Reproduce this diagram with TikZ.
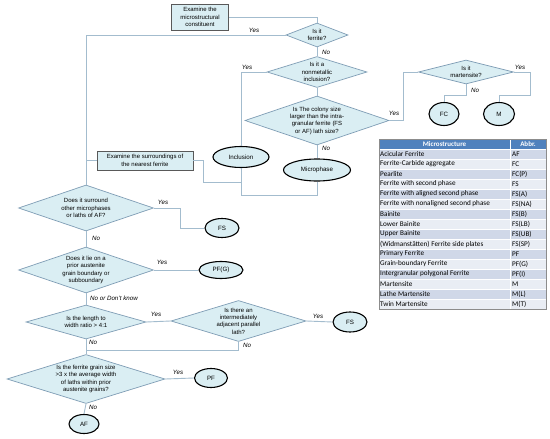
\documentclass[tikz,border=0pt]{standalone}
\usepackage{fontspec}
\setmainfont{Liberation Sans}
\newfontfamily\tabfont{Carlito}
\usetikzlibrary{shapes.geometric,calc}
\definecolor{lnc}{HTML}{A3BCCE}
\definecolor{dfill}{HTML}{DAEEF3}
\definecolor{dborder}{HTML}{7F9DB5}
\definecolor{bborder}{HTML}{595959}
\definecolor{hdr}{HTML}{4F81BD}
\definecolor{rowA}{HTML}{D0D8E8}
\definecolor{rowB}{HTML}{E9EDF4}
\tikzset{
  dia/.style={diamond, draw=dborder, fill=dfill, line width=0.7pt, inner sep=0pt},
  dtext/.style={align=center, inner sep=0pt, font=\fontsize{6}{7.3}\selectfont},
  ell/.style={ellipse, draw=black, fill=dfill, line width=1.1pt, inner sep=0pt, font=\fontsize{6.2}{7}\selectfont},
  bx/.style={rectangle, draw=bborder, fill=dfill, line width=0.8pt, inner sep=0pt, align=center, font=\fontsize{6}{7.3}\selectfont},
  conn/.style={draw=lnc, line width=0.9pt},
  lbl/.style={inner sep=0pt, font=\fontsize{6.2}{7}\selectfont\itshape},
  tabtxt/.style={inner sep=0pt, font=\tabfont\fontsize{7.2}{8}\selectfont},
  tabhd/.style={inner sep=0pt, text=white, font=\tabfont\bfseries\fontsize{7}{8}\selectfont},
}
\begin{document}
\begin{tikzpicture}[x=1pt,y=-1pt]
\useasboundingbox (0,0) rectangle (550,439);
\fill[white] (0,0) rectangle (550,439);

% boxes
\node[bx, minimum width=57, minimum height=26] (b0) at (200,17) {Examine the\\microstructural\\constituent};
\node[bx, minimum width=96, minimum height=19] (b1) at (145,160.5) {Examine  the surroundings of\\the nearest ferrite};

% diamonds
\node[dia, minimum width=62, minimum height=24] (d1) at (317,35) {};
\node[dtext] (t1) at (d1) {Is it\\ferrite?};
\node[dia, minimum width=100, minimum height=31] (d2) at (317,72) {};
\node[dtext] (t2) at (d2) {Is it a\\nonmetallic\\inclusion?};
\node[dia, minimum width=144, minimum height=49] (d3) at (317,120.5) {};
\node[dtext] (t3) at (d3) {Is The colony size\\larger than the intra-\\granular ferrite (FS\\or AF) lath size?};
\node[dia, minimum width=95, minimum height=24] (d4) at (466,72) {};
\node[dtext] (t4) at (d4) {Is it\\martensite?};
\node[dia, minimum width=135, minimum height=46] (d5) at (86,208) {};
\node[dtext] (t5) at (d5) {Does it surround\\other microphases\\or laths of AF?};
\node[dia, minimum width=135, minimum height=46] (d6) at (86,270) {};
\node[dtext] (t6) at (d6) {Does it lie on a\\prior austenite\\grain boundary or\\subboundary};
\node[dia, minimum width=120, minimum height=34] (d7) at (86,322) {};
\node[dtext] (t7) at (d7) {Is the length to\\width ratio > 4:1};
\node[dia, minimum width=135, minimum height=41] (d8) at (238.5,321) {};
\node[dtext] (t8) at (d8) {Is there an\\intermediately\\adjacent parallel\\lath?};
\node[dia, minimum width=158, minimum height=49] (d9) at (86,379) {};
\node[dtext] (t9) at (d9) {Is the ferrite grain size\\>3 x the average width\\of laths within prior\\austenite grains?};

% ellipses
\node[ell, minimum width=30, minimum height=23] (fc) at (444,114) {FC};
\node[ell, minimum width=31, minimum height=23] (m) at (499,114) {M};
\node[ell, minimum width=56, minimum height=21] (incl) at (241,157) {Inclusion};
\node[ell, minimum width=67, minimum height=22] (micro) at (317,170) {Microphase};
\node[ell, minimum width=34, minimum height=19] (fs1) at (222,228) {FS};
\node[ell, minimum width=44, minimum height=17] (pfg) at (221,270) {PF(G)};
\node[ell, minimum width=34, minimum height=20] (fs2) at (350,322) {FS};
\node[ell, minimum width=33, minimum height=19] (pf) at (211,378) {PF};
\node[ell, minimum width=30, minimum height=19] (af) at (84,424) {AF};

% connectors
\draw[conn] (b0.east) -| (d1.north);
\draw[conn] (d1.west) -| (d5.north);
\draw[conn] (b1.west) -- (b1.west -| d5.north);
\draw[conn] (d1.south) -- (d2.north);
\draw[conn] (d2.west) -| (incl.north);
\draw[conn] (d2.south) -- (d3.north);
\draw[conn] (d3.east) -- ++(14,0) |- (d4.west);
\draw[conn] (d4.east) -| (530,95) -| (m.north);
\draw[conn] (d4.south) -- ++(0,11) -| (fc.north);
\draw[conn] (d3.south) -- (micro.north);
\draw[conn] (micro.south) -- ++(0,14) -| (incl.south);
\draw[conn] (b1.east) -- ++(10,0) |- (incl.south |- 0,182);
\draw[conn] (d5.east) -- ++(27,0) |- (fs1.west);
\draw[conn] (d5.south) -- (d6.north);
\draw[conn] (d6.east) -- (pfg.west);
\draw[conn] (d6.south) -- (d7.north);
\draw[conn] (d7.east) -- (d8.west);
\draw[conn] (d8.east) -- (fs2.west);
\draw[conn] (d8.south) |- (d7.south |- 0,350);
\draw[conn] (d7.south) -- (d9.north);
\draw[conn] (d9.east) -- (pf.west);
\draw[conn] (d9.south) -- (af.north);

% labels
\node[lbl] (y1) at (254,30) {Yes};
\node[lbl] (n1) at (326,52) {No};
\node[lbl] (y2) at (247,67) {Yes};
\node[lbl] (y3) at (394,113) {Yes};
\node[lbl] (y4) at (520,67) {Yes};
\node[lbl] (n4) at (475,90) {No};
\node[lbl] (n3) at (326,148) {No};
\node[lbl] (y5) at (163,202) {Yes};
\node[lbl] (n5) at (96,238) {No};
\node[lbl] (y6) at (162,262) {Yes};
\node[lbl, anchor=west] (n6) at (90,298) {No or Don't know};
\node[lbl] (y7) at (156,314) {Yes};
\node[lbl] (y8) at (318,316) {Yes};
\node[lbl] (n8) at (247,345) {No};
\node[lbl] (n7) at (93,342) {No};
\node[lbl] (y9) at (178,372) {Yes};
\node[lbl] (n9) at (93,407) {No};

% table
\fill[hdr] (379,139) rectangle (546,149);
\node[tabhd] (th1) at (444.5,144) {Microstructure};
\node[tabhd] (th2) at (528,144) {Abbr.};
\foreach \nm/\ab [count=\i] in {Acicular Ferrite/AF, Ferrite-Carbide aggregate/FC, Pearlite/FC(P), Ferrite with second phase/FS, Ferrite with aligned second phase/FS(A), Ferrite with nonaligned second phase/FS(NA), Bainite/FS(B), Lower Bainite/FS(LB), Upper Bainite/FS(UB), (Widmanstätten) Ferrite side plates/FS(SP), Primary Ferrite/PF, Grain-boundary Ferrite/PF(G), Intergranular polygonal Ferrite/PF(I), Martensite/M, Lathe Martensite/M(L), Twin Martensite/M(T)} {
  \pgfmathsetmacro{\yt}{149+(\i-1)*10}
  \pgfmathparse{mod(\i,2)==1 ? "rowA" : "rowB"}
  \edef\rc{\pgfmathresult}
  \fill[\rc] (379,\yt) rectangle (546,\yt+10);
  \draw[white, line width=0.4pt] (379,\yt) -- (546,\yt);
  \node[tabtxt, anchor=west] (tn\i) at (380,\yt+5) {\nm};
  \node[tabtxt, anchor=west] (ta\i) at (512,\yt+5) {\ab};
}
\draw[white, line width=0.6pt] (510,139) -- (510,309);
\draw[black!45, line width=0.8pt] (379,139) rectangle (546,309);
\end{tikzpicture}
\end{document}
